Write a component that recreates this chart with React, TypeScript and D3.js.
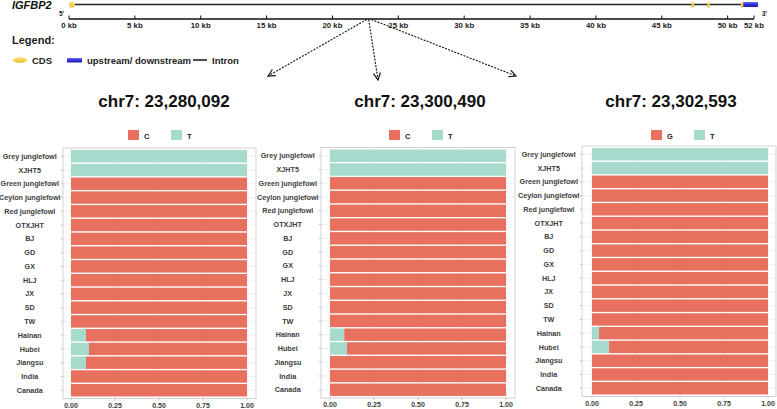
import React from "react";
import * as d3 from "d3";

const populations = [
  "Grey junglefowl", "XJHT5", "Green junglefowl", "Ceylon junglefowl", "Red junglefowl",
  "OTXJHT", "BJ", "GD", "GX", "HLJ", "JX", "SD", "TW", "Hainan", "Hubei", "Jiangsu", "India", "Canada",
];
// frequency of the T allele (teal) per population
const site1T = [1, 1, 0, 0, 0, 0, 0, 0, 0, 0, 0, 0, 0, 0.085, 0.102, 0.085, 0, 0];
const site2T = [1, 1, 0, 0, 0, 0, 0, 0, 0, 0, 0, 0, 0, 0.081, 0.097, 0, 0, 0];
const site3T = [1, 1, 0, 0, 0, 0, 0, 0, 0, 0, 0, 0, 0, 0.04, 0.097, 0, 0, 0];
const siteTitles = ["chr7: 23,280,092", "chr7: 23,300,490", "chr7: 23,302,593"];
const siteRefAllele = ["C", "C", "G"];
const siteAltAllele = ["T", "T", "T"];
const xTicks = [0, 0.25, 0.5, 0.75, 1];

const geneTicks = [0, 5, 10, 15, 20, 25, 30, 35, 40, 45, 50, 52];
const cdsExons = [[0, 0.45], [47.25, 47.45], [48.45, 48.6], [51.0, 51.15]];
const utrRegions = [[51.1, 52.3]];
const geneSpan = [0.15, 52.3];
const snpKb = [22.6, 22.75, 22.95];

const RED = "#E8705F";
const TEAL = "#A6DACC";
const FONT = "'Liberation Sans', Arial, Helvetica, sans-serif";
const AXIS_TXT = "#3d3d3d";
const YLAB_SIZE = 7.2;

const panelsLayout = [
  { left: 63, right: 256, top: 148, bottom: 398.5, x0: 71, x1: 247, titleX: 164, legX: 128 },
  { left: 321, right: 515, top: 147.5, bottom: 398, x0: 330, x1: 506, titleX: 420, legX: 389 },
  { left: 582, right: 776, top: 146, bottom: 396.5, x0: 592, x1: 768, titleX: 671, legX: 651 },
];
const siteData = [site1T, site2T, site3T];

function maxLabelWidth(): number {
  try {
    const ctx = document.createElement("canvas").getContext("2d");
    if (ctx) {
      ctx.font = `bold ${YLAB_SIZE}px 'Liberation Sans', Arial, sans-serif`;
      return d3.max(populations, (p) => ctx.measureText(p).width) || 60;
    }
  } catch (e) {}
  return 60;
}

function Panel({ idx, maxW }: { idx: number; maxW: number }) {
  const L = panelsLayout[idx];
  const tvals = siteData[idx];
  const x = d3.scaleLinear().domain([0, 1]).range([L.x0, L.x1]);
  const y = d3.scalePoint<string>().domain(populations).range([L.top, L.bottom]).padding(0.6);
  const step = y.step();
  const bh = step * 0.9;
  const labelCx = L.left - 2.5 - maxW / 2;
  return (
    <g>
      <text x={L.titleX} y={107} textAnchor="middle" fontFamily={FONT} fontWeight="bold" fontSize={17} fill="#111">
        {siteTitles[idx]}
      </text>
      {/* legend */}
      <rect x={L.legX} y={130} width={11} height={10} fill={RED} />
      <text x={L.legX + 16} y={138.5} fontFamily={FONT} fontWeight="bold" fontSize={7.5} fill="#222">{siteRefAllele[idx]}</text>
      <rect x={L.legX + 43} y={130} width={11} height={10} fill={TEAL} />
      <text x={L.legX + 59} y={138.5} fontFamily={FONT} fontWeight="bold" fontSize={7.5} fill="#222">{siteAltAllele[idx]}</text>
      {/* panel */}
      <rect x={L.left} y={L.top} width={L.right - L.left} height={L.bottom - L.top} fill="white" />
      {xTicks.map((t) => (
        <line key={"gx" + t} x1={x(t)} x2={x(t)} y1={L.top} y2={L.bottom} stroke="#ECECEC" strokeWidth={0.8} />
      ))}
      {populations.map((p) => (
        <line key={"gy" + p} x1={L.left} x2={L.right} y1={y(p)!} y2={y(p)!} stroke="#ECECEC" strokeWidth={0.8} />
      ))}
      {populations.map((p, i) => {
        const cy = y(p)!;
        const t = tvals[i];
        return (
          <g key={p}>
            {t > 0 && <rect x={x(0)} y={cy - bh / 2} width={x(t) - x(0)} height={bh} fill={TEAL} />}
            {t < 1 && <rect x={x(t)} y={cy - bh / 2} width={x(1) - x(t)} height={bh} fill={RED} />}
          </g>
        );
      })}
      <rect x={L.left} y={L.top} width={L.right - L.left} height={L.bottom - L.top} fill="none" stroke="#C8C8C8" strokeWidth={0.8} />
      {/* y axis */}
      {populations.map((p) => (
        <g key={"yl" + p}>
          <line x1={L.left - 2} x2={L.left} y1={y(p)!} y2={y(p)!} stroke="#9a9a9a" strokeWidth={0.6} />
          <text x={labelCx} y={y(p)! + 2.6} textAnchor="middle" fontFamily={FONT} fontWeight="bold" fontSize={YLAB_SIZE} fill={AXIS_TXT}>
            {p}
          </text>
        </g>
      ))}
      {/* x axis */}
      {xTicks.map((t) => (
        <g key={"xl" + t}>
          <line x1={x(t)} x2={x(t)} y1={L.bottom} y2={L.bottom + 2} stroke="#9a9a9a" strokeWidth={0.6} />
          <text x={x(t)} y={L.bottom + 9} textAnchor="middle" fontFamily={FONT} fontWeight="bold" fontSize={7} fill={AXIS_TXT}>
            {d3.format(".2f")(t)}
          </text>
        </g>
      ))}
    </g>
  );
}

function GeneTrack() {
  const g = d3.scaleLinear().domain([0, 52]).range([69, 754]);
  const arrowEnds = [[268, 76], [378, 80], [516, 76]];
  return (
    <g>
      <defs>
        <linearGradient id="cdsGrad" x1="0" y1="0" x2="0" y2="1">
          <stop offset="0" stopColor="#FBE9A6" />
          <stop offset="0.5" stopColor="#F3CF55" />
          <stop offset="1" stopColor="#E9BE3A" />
        </linearGradient>
        <linearGradient id="utrGrad" x1="0" y1="0" x2="0" y2="1">
          <stop offset="0" stopColor="#6E6EF0" />
          <stop offset="0.5" stopColor="#2F2FD8" />
          <stop offset="1" stopColor="#1E1EB0" />
        </linearGradient>
        <marker id="openArrow" viewBox="0 0 10 10" refX="9" refY="5" markerWidth="8" markerHeight="8" orient="auto">
          <path d="M1,1 L9,5 L1,9" fill="none" stroke="#111" strokeWidth={1.3} />
        </marker>
      </defs>
      <text x={12} y={9} fontFamily={FONT} fontWeight="bold" fontStyle="italic" fontSize={11} fill="#111">IGFBP2</text>
      <line x1={g(geneSpan[0])} x2={g(geneSpan[1])} y1={4.5} y2={4.5} stroke="#222" strokeWidth={1.7} />
      {utrRegions.map((r, i) => (
        <rect key={"u" + i} x={g(r[0])} y={2} width={g(r[1]) - g(r[0])} height={5} fill="url(#utrGrad)" />
      ))}
      {cdsExons.map((r, i) => {
        const w = Math.max(2.5, g(r[1]) - g(r[0]));
        return <rect key={"c" + i} x={g(r[0])} y={1.2} width={w} height={6.6} rx={Math.min(3, w / 2)} fill="url(#cdsGrad)" />;
      })}
      {/* axis */}
      <line x1={g(0)} x2={g(52)} y1={19} y2={19} stroke="#111" strokeWidth={1.5} />
      {geneTicks.map((t) => (
        <g key={"gt" + t}>
          <line x1={g(t)} x2={g(t)} y1={15.5} y2={19} stroke="#111" strokeWidth={1} />
          <text x={g(t)} y={27.5} textAnchor="middle" fontFamily={FONT} fontWeight="bold" fontSize={7.8} fill="#222">
            {t} kb
          </text>
        </g>
      ))}
      <text x={59} y={16} fontFamily={FONT} fontWeight="bold" fontSize={6.5} fill="#222">5'</text>
      <text x={762} y={16} fontFamily={FONT} fontWeight="bold" fontSize={6.5} fill="#222">3'</text>
      {/* arrows */}
      {arrowEnds.map((e, i) => (
        <line key={"ar" + i} x1={g(snpKb[i])} y1={19.5} x2={e[0]} y2={e[1]} stroke="#111" strokeWidth={1.1} strokeDasharray="2,1.3" markerEnd="url(#openArrow)" />
      ))}
      {/* legend */}
      <text x={12} y={44} fontFamily={FONT} fontWeight="bold" fontSize={11} fill="#222">Legend:</text>
      <ellipse cx={20} cy={60} rx={7} ry={3} fill="url(#cdsGrad)" />
      <text x={32} y={63.5} fontFamily={FONT} fontWeight="bold" fontSize={9.5} fill="#222">CDS</text>
      <rect x={67} y={58} width={15} height={4.5} fill="url(#utrGrad)" />
      <text x={87} y={63.5} fontFamily={FONT} fontWeight="bold" fontSize={9.5} fill="#222">upstream/ downstream</text>
      <line x1={193} x2={207} y1={60} y2={60} stroke="#111" strokeWidth={1.5} />
      <text x={212} y={63.5} fontFamily={FONT} fontWeight="bold" fontSize={9.5} fill="#222">Intron</text>
    </g>
  );
}

export default function App() {
  const maxW = maxLabelWidth();
  return (
    <svg width={777} height={409} style={{ position: "absolute", left: 0, top: 0, background: "white" }}>
      <rect width={777} height={409} fill="white" />
      <GeneTrack />
      {[0, 1, 2].map((i) => <Panel key={i} idx={i} maxW={maxW} />)}
    </svg>
  );
}
